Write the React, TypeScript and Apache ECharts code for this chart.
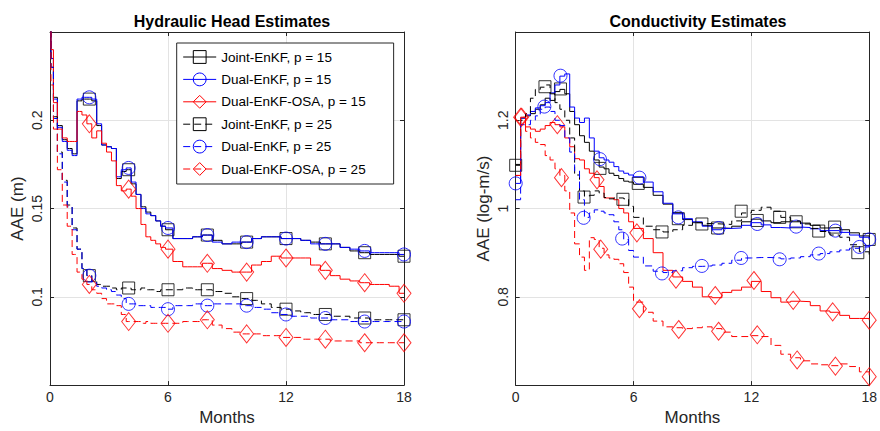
import { useEffect, useRef } from 'react';
import * as echarts from 'echarts';

// ---- Hydraulic head (left panel), AAE in m ----
const headT = [
  0, 0.1, 0.25, 0.5, 0.75, 1, 1.25, 1.5, 1.75, 2, 2.25, 2.5, 2.75, 3, 3.25, 3.5, 3.75, 4, 4.25, 4.5, 4.75, 5, 5.25, 5.5, 5.75, 6,
  6.5, 7, 7.5, 8, 8.5, 9, 9.5, 10, 10.5, 11, 11.5, 12, 12.5, 13, 13.5, 14, 14.5, 15, 15.5, 16, 16.5, 17, 17.5, 18,
];
const headJoint15 = [
  0.4, 0.235, 0.213, 0.197, 0.189, 0.184, 0.181, 0.211, 0.212, 0.212, 0.211, 0.197, 0.186, 0.185, 0.184, 0.167, 0.171, 0.172, 0.164, 0.158, 0.151, 0.148, 0.146, 0.143, 0.14, 0.138,
  0.133, 0.133, 0.134, 0.135, 0.132, 0.13, 0.13, 0.131, 0.133, 0.134, 0.134, 0.133, 0.133, 0.132, 0.131, 0.13, 0.13, 0.128, 0.126, 0.125, 0.124, 0.124, 0.124, 0.123,
];
const headDual15 = [
  0.4, 0.235, 0.212, 0.196, 0.188, 0.183, 0.18, 0.212, 0.213, 0.213, 0.212, 0.198, 0.186, 0.185, 0.184, 0.168, 0.172, 0.173, 0.165, 0.158, 0.15, 0.147, 0.146, 0.143, 0.14, 0.139,
  0.133, 0.133, 0.134, 0.135, 0.131, 0.13, 0.131, 0.131, 0.133, 0.134, 0.134, 0.133, 0.133, 0.132, 0.13, 0.13, 0.13, 0.128, 0.127, 0.126, 0.125, 0.125, 0.125, 0.124,
];
const headOsa15 = [
  0.4, 0.24, 0.21, 0.195, 0.19, 0.188, 0.188, 0.205, 0.203, 0.198, 0.19, 0.194, 0.187, 0.182, 0.177, 0.163, 0.16, 0.161, 0.157, 0.15, 0.141, 0.134, 0.132, 0.13, 0.128, 0.127,
  0.12, 0.117, 0.117, 0.119, 0.116, 0.115, 0.114, 0.114, 0.118, 0.12, 0.123, 0.122, 0.122, 0.122, 0.118, 0.115, 0.112, 0.11, 0.109, 0.108, 0.107, 0.107, 0.106, 0.102,
];
const headJoint25 = [
  0.4, 0.23, 0.202, 0.182, 0.166, 0.152, 0.139, 0.127, 0.116, 0.112, 0.109, 0.107, 0.106, 0.106, 0.105, 0.104, 0.105, 0.105, 0.104, 0.104, 0.105, 0.104, 0.104, 0.103, 0.104, 0.104,
  0.104, 0.105, 0.104, 0.104, 0.103, 0.102, 0.1, 0.099, 0.098, 0.096, 0.094, 0.093, 0.092, 0.091, 0.09, 0.09, 0.089, 0.089, 0.088, 0.088, 0.087, 0.087, 0.087, 0.087,
];
const headDual25 = [
  0.4, 0.23, 0.201, 0.181, 0.165, 0.151, 0.138, 0.127, 0.116, 0.112, 0.108, 0.106, 0.105, 0.104, 0.103, 0.101, 0.099, 0.096, 0.096, 0.095, 0.095, 0.095, 0.094, 0.094, 0.094, 0.093,
  0.095, 0.095, 0.096, 0.095, 0.096, 0.096, 0.096, 0.095, 0.094, 0.093, 0.091, 0.09, 0.089, 0.089, 0.088, 0.088, 0.087, 0.087, 0.086, 0.086, 0.086, 0.086, 0.086, 0.086,
];
const headOsa25 = [
  0.4, 0.22, 0.195, 0.172, 0.152, 0.14, 0.124, 0.114, 0.11, 0.107, 0.104, 0.102, 0.099, 0.096, 0.096, 0.095, 0.09, 0.086, 0.086, 0.086, 0.085, 0.086, 0.085, 0.085, 0.085, 0.085,
  0.085, 0.086, 0.086, 0.087, 0.084, 0.082, 0.08, 0.079, 0.079, 0.078, 0.078, 0.077, 0.077, 0.076, 0.076, 0.076, 0.075, 0.075, 0.075, 0.074, 0.074, 0.074, 0.074, 0.074,
];
// markers sit every two months on all head curves
const headMarkT = [2, 4, 6, 8, 10, 12, 14, 16, 18];

// ---- Conductivity (right panel), AAE in log-m/s ----
const condT = [
  0, 0.25, 0.5, 0.75, 1, 1.25, 1.5, 1.75, 2, 2.25, 2.5, 2.75, 3, 3.25, 3.5, 3.75, 4, 4.25, 4.5, 4.75, 5, 5.25, 5.5, 5.75, 6,
  6.5, 7, 7.5, 8, 8.5, 9, 9.5, 10, 10.5, 11, 11.5, 12, 12.5, 13, 13.5, 14, 14.5, 15, 15.5, 16, 16.5, 17, 17.5, 18,
];
const condJoint15 = [
  1.098, 1.205, 1.21, 1.215, 1.225, 1.235, 1.25, 1.245, 1.265, 1.27, 1.26, 1.22, 1.19, 1.165, 1.15, 1.13, 1.11, 1.094, 1.09, 1.08, 1.075, 1.068, 1.062, 1.06, 1.055,
  1.048, 1.03, 1.01, 0.99, 0.975, 0.968, 0.962, 0.956, 0.955, 0.96, 0.97, 0.976, 0.972, 0.968, 0.97, 0.97, 0.967, 0.962, 0.956, 0.957, 0.952, 0.945, 0.938, 0.93,
];
const condDual15 = [
  1.057, 1.205, 1.212, 1.22, 1.228, 1.233, 1.24, 1.262, 1.28, 1.3, 1.305, 1.23, 1.205, 1.195, 1.205, 1.16, 1.13, 1.115, 1.11, 1.105, 1.095, 1.085, 1.08, 1.076, 1.072,
  1.06, 1.038, 1.012, 0.988, 0.977, 0.97, 0.96, 0.952, 0.955, 0.956, 0.962, 0.968, 0.963, 0.957, 0.956, 0.958, 0.957, 0.954, 0.95, 0.95, 0.946, 0.94, 0.935, 0.93,
];
const condOsa15 = [
  1.075, 1.207, 1.185, 1.18, 1.175, 1.18, 1.188, 1.195, 1.19, 1.185, 1.16, 1.14, 1.113, 1.11, 1.09, 1.08, 1.07, 1.05, 1.024, 1.024, 1.02, 1.0, 0.99, 0.97, 0.955,
  0.932, 0.9, 0.86, 0.845, 0.835, 0.822, 0.8, 0.798, 0.81, 0.815, 0.822, 0.835, 0.812, 0.798, 0.788, 0.79, 0.789, 0.78, 0.768, 0.765, 0.758, 0.751, 0.751, 0.747,
];
const condJoint25 = [
  1.1, 1.2, 1.215, 1.25, 1.27, 1.275, 1.28, 1.26, 1.24, 1.225, 1.2, 1.16, 1.076, 1.04, 1.028, 1.03, 1.04, 1.035, 1.025, 1.022, 1.024, 1.024, 1.022, 1.005, 0.98,
  0.96, 0.952, 0.947, 0.952, 0.962, 0.968, 0.966, 0.965, 0.964, 0.972, 0.99, 0.996, 1.003, 0.994, 0.98, 0.972, 0.965, 0.955, 0.948, 0.94, 0.935, 0.918, 0.902, 0.893,
];
const condDual25 = [
  1.02, 1.19, 1.19, 1.2, 1.21, 1.225, 1.23, 1.22, 1.2, 1.188, 1.16, 1.128, 1.085, 1.02, 0.98, 0.99, 0.997, 0.994, 0.99, 0.986, 0.97, 0.952, 0.93, 0.905, 0.89,
  0.87, 0.858, 0.855, 0.859, 0.866, 0.869, 0.87, 0.872, 0.876, 0.883, 0.888, 0.889, 0.889, 0.888, 0.886, 0.888, 0.891, 0.895, 0.898, 0.902, 0.906, 0.91, 0.913, 0.92,
];
const condOsa25 = [
  1.075, 1.207, 1.175, 1.16, 1.15, 1.145, 1.12, 1.11, 1.09, 1.075, 1.04, 0.99, 0.92, 0.89, 0.86, 0.934, 0.93, 0.91, 0.895, 0.888, 0.885, 0.875, 0.855, 0.822, 0.788,
  0.765, 0.745, 0.732, 0.73, 0.728, 0.73, 0.732, 0.728, 0.72, 0.71, 0.71, 0.712, 0.71, 0.69, 0.67, 0.662, 0.655, 0.648, 0.646, 0.644, 0.648, 0.642, 0.63, 0.615,
];
const condJoint15Marks = [[0, 1.098], [2.28, 1.271], [4.29, 1.091], [6.24, 1.057], [8.28, 0.977], [10.28, 0.956], [12.3, 0.973], [14.28, 0.97], [16.24, 0.958], [18, 0.93]];
const condDual15Marks = [[0, 1.057], [2.28, 1.301], [4.29, 1.112], [6.3, 1.07], [8.28, 0.98], [10.33, 0.956], [12.3, 0.965], [14.28, 0.959], [16.28, 0.95], [18, 0.93]];
const condOsa15Marks = [[0.25, 1.207], [2.12, 1.19], [4.14, 1.065], [6.17, 0.945], [8.16, 0.84], [10.16, 0.803], [12.13, 0.837], [14.13, 0.792], [16.14, 0.766], [18, 0.747]];
const condJoint25Marks = [[1.49, 1.276], [3.48, 1.026], [5.46, 1.021], [7.45, 0.947], [9.48, 0.965], [11.48, 0.994], [13.44, 0.98], [15.43, 0.949], [17.42, 0.9]];
const condDual25Marks = [[1.46, 1.231], [3.46, 0.979], [5.42, 0.932], [7.45, 0.853], [9.48, 0.87], [11.48, 0.888], [13.44, 0.885], [15.43, 0.898], [17.5, 0.913]];
const condOsa25Marks = [[0.3, 1.207], [2.33, 1.07], [4.33, 0.908], [6.3, 0.773], [8.3, 0.726], [10.33, 0.722], [12.3, 0.714], [14.33, 0.657], [16.28, 0.643], [18, 0.619]];

const LEGEND_NAMES = [
  'Joint-EnKF, p = 15',
  'Dual-EnKF, p = 15',
  'Dual-EnKF-OSA, p = 15',
  'Joint-EnKF, p = 25',
  'Dual-EnKF, p = 25',
  'Dual-EnKF-OSA, p = 25',
];
const LINE_COLORS = ['#000000', '#0000ff', '#ff0000', '#000000', '#0000ff', '#ff0000'];
const MARKERS = ['rect', 'circle', 'diamond', 'rect', 'circle', 'diamond'];
const MARKER_SIZES: (number | number[])[] = [12, 13, [14, 18], 12, 13, [14, 18]];
const DASH = [7, 4];
const FONT = '"Liberation Sans", Arial, Helvetica, sans-serif';
const INK = '#262626';
const GRID_LINE = '#e3e3e3';

const headValues = [headJoint15, headDual15, headOsa15, headJoint25, headDual25, headOsa25];
const condValues = [condJoint15, condDual15, condOsa15, condJoint25, condDual25, condOsa25];
const condMarks = [condJoint15Marks, condDual15Marks, condOsa15Marks, condJoint25Marks, condDual25Marks, condOsa25Marks];
const headMarks = headValues.map((v) => headMarkT.map((t) => [t, v[headT.indexOf(t)]]));

function buildSeries(gridIndex: number, t: number[], values: number[][], marks: number[][][], step: string) {
  const out: any[] = [];
  values.forEach((v, i) => {
    const axes = { xAxisIndex: gridIndex * 2, yAxisIndex: gridIndex * 2 };
    out.push({
      type: 'line',
      name: LEGEND_NAMES[i],
      ...axes,
      data: t.map((x, k) => [x, v[k]]),
      step,
      showSymbol: false,
      symbol: MARKERS[i],
      lineStyle: { color: LINE_COLORS[i], width: 1, type: i >= 3 ? DASH : 'solid' },
      itemStyle: { color: LINE_COLORS[i] },
      clip: true,
      silent: true,
      z: 3 + i,
    });
    out.push({
      type: 'scatter',
      name: `${LEGEND_NAMES[i]} marks`,
      ...axes,
      data: marks[i],
      symbol: MARKERS[i],
      symbolSize: MARKER_SIZES[i],
      itemStyle: { color: 'transparent', borderColor: LINE_COLORS[i], borderWidth: 1 },
      clip: false,
      silent: true,
      z: 3 + i,
    });
  });
  return out;
}

function xAxes(gridIndex: number) {
  const base = {
    type: 'value',
    gridIndex,
    min: 0,
    max: 18,
    interval: 6,
    axisLine: { onZero: false, lineStyle: { color: INK, width: 1 } },
    axisTick: { inside: true, length: 4, lineStyle: { color: INK } },
  };
  return [
    {
      ...base,
      position: 'bottom',
      name: 'Months',
      nameLocation: 'middle',
      nameGap: 19,
      nameTextStyle: { fontFamily: FONT, fontSize: 17, color: INK },
      axisLabel: { fontFamily: FONT, fontSize: 14, color: INK, margin: 5 },
      splitLine: { show: true, lineStyle: { color: GRID_LINE, width: 1 } },
    },
    { ...base, position: 'top', axisLabel: { show: false }, splitLine: { show: false } },
  ];
}

function yAxes(gridIndex: number, min: number, max: number, interval: number, name: string) {
  const base = {
    type: 'value',
    gridIndex,
    min,
    max,
    interval,
    axisLine: { onZero: false, lineStyle: { color: INK, width: 1 } },
    axisTick: { inside: true, length: 4, lineStyle: { color: INK } },
  };
  const eps = interval / 100;
  return [
    {
      ...base,
      position: 'left',
      name,
      nameLocation: 'middle',
      nameGap: 24,
      nameTextStyle: { fontFamily: FONT, fontSize: 17, color: INK },
      axisLabel: {
        fontFamily: FONT,
        fontSize: 14,
        color: INK,
        rotate: 90,
        margin: 6,
        formatter: (v: number) => (v < min + eps || v > max - eps ? '' : String(Math.round(v * 1000) / 1000)),
      },
      splitLine: { show: true, lineStyle: { color: GRID_LINE, width: 1 } },
    },
    { ...base, position: 'right', axisLabel: { show: false }, splitLine: { show: false } },
  ];
}

export default function App() {
  const chartRef = useRef<HTMLDivElement | null>(null);

  useEffect(() => {
    document.body.style.margin = '0';
    if (!chartRef.current) {
      return;
    }
    const chart = echarts.init(chartRef.current, undefined, { renderer: 'svg' });
    chart.setOption({
      animation: false,
      backgroundColor: '#ffffff',
      title: [
        {
          text: 'Hydraulic Head Estimates',
          left: 227,
          top: 8,
          textAlign: 'center',
          textStyle: { fontFamily: FONT, fontSize: 16, fontWeight: 'bold', color: '#000' },
        },
        {
          text: 'Conductivity Estimates',
          left: 693,
          top: 8,
          textAlign: 'center',
          textStyle: { fontFamily: FONT, fontSize: 16, fontWeight: 'bold', color: '#000' },
        },
      ],
      grid: [
        { left: 50, top: 32, width: 354, height: 357 },
        { left: 515.7, top: 32, width: 355, height: 357 },
      ],
      xAxis: [...xAxes(0), ...xAxes(1)],
      yAxis: [...yAxes(0, 0.05, 0.25, 0.05, 'AAE (m)'), ...yAxes(1, 0.6, 1.4, 0.2, 'AAE (log-m/s)')],
      legend: {
        data: LEGEND_NAMES.map((name, i) => ({
          name,
          itemStyle: { color: 'transparent', borderColor: LINE_COLORS[i], borderWidth: 1 },
          lineStyle: { color: LINE_COLORS[i], width: 1, type: i >= 3 ? DASH : 'solid' },
        })),
        orient: 'vertical',
        left: 176.7,
        top: 43,
        itemWidth: 33,
        itemHeight: 16,
        itemGap: 8.4,
        padding: [7, 28, 8, 6],
        borderColor: INK,
        borderWidth: 1,
        borderRadius: 0,
        backgroundColor: '#ffffff',
        selectedMode: false,
        textStyle: { fontFamily: FONT, fontSize: 13.5, color: '#000' },
        z: 20,
      },
      series: [
        ...buildSeries(0, headT, headValues, headMarks, 'middle'),
        ...buildSeries(1, condT, condValues, condMarks, 'end'),
      ],
    });
    return () => chart.dispose();
  }, []);

  return <div ref={chartRef} style={{ width: 880, height: 431 }} />;
}
